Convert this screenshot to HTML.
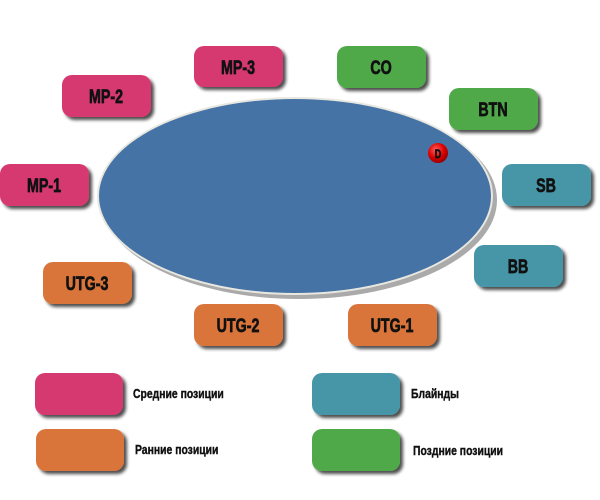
<!DOCTYPE html>
<html><head><meta charset="utf-8"><style>
html,body{margin:0;padding:0;background:#fff;}
svg{display:block;}
.t{font-family:"Liberation Sans",sans-serif;font-weight:bold;fill:#111;stroke:#111;stroke-width:0.7;}
</style></head><body>
<svg width="600" height="500" viewBox="0 0 600 500" xmlns="http://www.w3.org/2000/svg">
<defs>
<filter id="sh" x="-20%" y="-20%" width="150%" height="160%">
<feGaussianBlur in="SourceAlpha" stdDeviation="1.5"/>
<feOffset dx="3" dy="3" result="o"/>
<feComponentTransfer><feFuncA type="linear" slope="0.7"/></feComponentTransfer>
<feMerge><feMergeNode/><feMergeNode in="SourceGraphic"/></feMerge>
</filter>
<radialGradient id="chip" cx="40%" cy="35%" r="65%">
<stop offset="0" stop-color="#ff6060"/><stop offset="0.6" stop-color="#e00000"/><stop offset="1" stop-color="#900"/>
</radialGradient>
</defs>
<ellipse cx="297" cy="198" rx="198" ry="99" fill="#555" opacity="0.5" transform="translate(2,2)"/>
<ellipse cx="295" cy="196" rx="198" ry="99" fill="#e8e8e0"/>
<ellipse cx="295" cy="196" rx="196" ry="97" fill="#4673a6"/>
<circle cx="438" cy="153" r="10" fill="url(#chip)"/>
<text class="t" font-size="12" text-anchor="middle" transform="translate(438 158) scale(0.75 1)">D</text>

<g filter="url(#sh)">
<rect x="194" y="46" width="89" height="41" rx="10" fill="#d6376f"/>
<rect x="62" y="75" width="89" height="42" rx="10" fill="#d6376f"/>
<rect x="0" y="164" width="89" height="42" rx="10" fill="#d6376f"/>
<rect x="337" y="46" width="89" height="42" rx="10" fill="#4fa94a"/>
<rect x="449" y="88" width="89" height="42" rx="10" fill="#4fa94a"/>
<rect x="502" y="164" width="89" height="42" rx="10" fill="#4796a8"/>
<rect x="474" y="245" width="89" height="42" rx="10" fill="#4796a8"/>
<rect x="43" y="262" width="89" height="42" rx="10" fill="#d9743a"/>
<rect x="194" y="304" width="89" height="42" rx="10" fill="#d9743a"/>
<rect x="348" y="304" width="89" height="42" rx="10" fill="#d9743a"/>
<rect x="35" y="373" width="88" height="42" rx="10" fill="#d6376f"/>
<rect x="36" y="429" width="88" height="42" rx="10" fill="#d9743a"/>
<rect x="312" y="373" width="88" height="42" rx="10" fill="#4796a8"/>
<rect x="312" y="429" width="88" height="42" rx="10" fill="#4fa94a"/>
</g>

<g class="t" font-size="19" text-anchor="middle">
<text transform="translate(238 74) scale(0.75 1)">MP-3</text>
<text transform="translate(106 103) scale(0.75 1)">MP-2</text>
<text transform="translate(44 192) scale(0.75 1)">MP-1</text>
<text transform="translate(381 74) scale(0.75 1)">CO</text>
<text transform="translate(493 116) scale(0.75 1)">BTN</text>
<text transform="translate(546 192) scale(0.75 1)">SB</text>
<text transform="translate(518 273) scale(0.75 1)">BB</text>
<text transform="translate(87 290) scale(0.75 1)">UTG-3</text>
<text transform="translate(238 332) scale(0.75 1)">UTG-2</text>
<text transform="translate(392 332) scale(0.75 1)">UTG-1</text>
</g>
<g class="t" font-size="13" style="stroke-width:0.4">
<text transform="translate(133 398) scale(0.8 1)">Средние позиции</text>
<text transform="translate(135 454) scale(0.8 1)">Ранние позиции</text>
<text transform="translate(411 398) scale(0.8 1)">Блайнды</text>
<text transform="translate(413 455) scale(0.8 1)">Поздние позиции</text>
</g>
</svg>
</body></html>
